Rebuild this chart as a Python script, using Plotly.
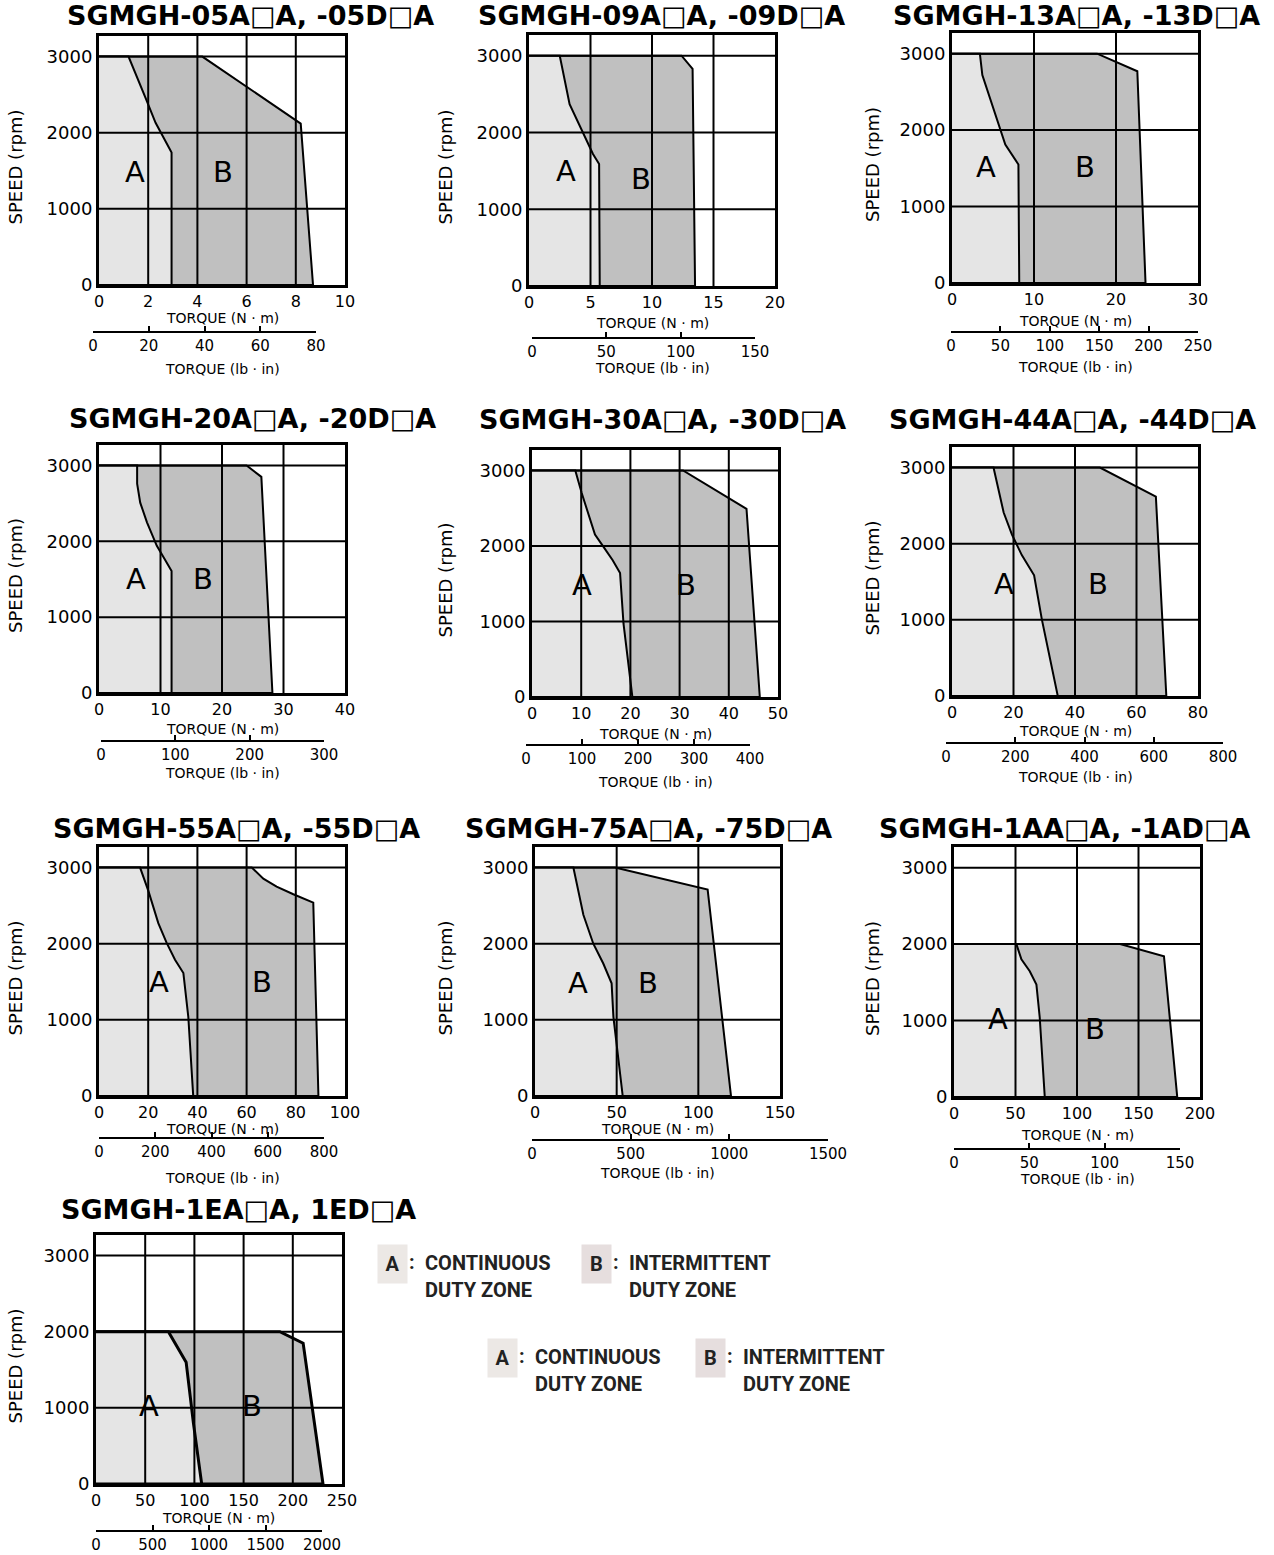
import plotly.graph_objects as go

W, H = 1274, 1555

# ---------------- data (torque in N·m, speed in rpm) ----------------
titles = ["SGMGH-05A□A, -05D□A", "SGMGH-09A□A, -09D□A", "SGMGH-13A□A, -13D□A",
          "SGMGH-20A□A, -20D□A", "SGMGH-30A□A, -30D□A", "SGMGH-44A□A, -44D□A",
          "SGMGH-55A□A, -55D□A", "SGMGH-75A□A, -75D□A", "SGMGH-1AA□A, -1AD□A",
          "SGMGH-1EA□A, 1ED□A"]

a_torque_05 = [1.2, 1.9, 2.3, 2.95, 2.95]
a_speed_05 = [3000, 2450, 2130, 1740, 0]
b_torque_05 = [4.2, 8.2, 8.7]
b_speed_05 = [3000, 2120, 0]

a_torque_09 = [2.5, 3.3, 4.4, 5.2, 5.7, 5.75]
a_speed_09 = [3000, 2370, 1980, 1720, 1590, 0]
b_torque_09 = [12.4, 13.3, 13.5]
b_speed_09 = [3000, 2830, 0]

a_torque_13 = [3.4, 3.7, 5.7, 6.5, 8.1, 8.2]
a_speed_13 = [3000, 2720, 2070, 1810, 1550, 0]
b_torque_13 = [17.7, 22.6, 23.6]
b_speed_13 = [3000, 2770, 0]

a_torque_20 = [6.2, 6.2, 6.7, 7.8, 9.4, 10.5, 11.8, 11.8]
a_speed_20 = [3000, 2760, 2510, 2250, 1940, 1790, 1610, 0]
b_torque_20 = [24.0, 26.4, 28.2]
b_speed_20 = [3000, 2850, 0]

a_torque_30 = [8.8, 10.1, 12.8, 14.5, 16.4, 17.9, 18.6, 20.4]
a_speed_30 = [3000, 2700, 2150, 1990, 1810, 1640, 970, 0]
b_torque_30 = [30.7, 43.6, 46.3]
b_speed_30 = [3000, 2490, 0]

a_torque_44 = [13.5, 16.8, 19.5, 22.7, 26.7, 29.2, 34.4]
a_speed_44 = [3000, 2410, 2120, 1850, 1585, 1010, 0]
b_torque_44 = [48.1, 66.3, 69.7]
b_speed_44 = [3000, 2620, 0]

a_torque_55 = [16.7, 20.1, 24.1, 27.5, 30.9, 34.3, 36.3, 38.3]
a_speed_55 = [3000, 2690, 2270, 2010, 1790, 1615, 1040, 0]
b_torque_55 = [62.1, 66.8, 72.2, 79.0, 87.1, 89.2]
b_speed_55 = [3000, 2855, 2750, 2650, 2540, 0]

a_torque_75 = [23.5, 29.6, 35.7, 41.8, 46.9, 48.0, 53.7]
a_speed_75 = [3000, 2380, 2000, 1740, 1480, 1040, 0]
b_torque_75 = [49.0, 105.7, 120.0]
b_speed_75 = [3000, 2710, 0]

a_torque_1A = [50.7, 54.8, 61.6, 67.0, 69.7, 73.8]
a_speed_1A = [2000, 1800, 1645, 1470, 1040, 0]
b_torque_1A = [135.0, 170.7, 181.5]
b_speed_1A = [2000, 1840, 0]

a_torque_1E = [73.6, 91.6, 99.0, 107.4]
a_speed_1E = [2000, 1600, 800, 0]
b_torque_1E = [186.8, 210.5, 230.7]
b_speed_1E = [2000, 1850, 0]

a_torques = [a_torque_05, a_torque_09, a_torque_13, a_torque_20, a_torque_30,
             a_torque_44, a_torque_55, a_torque_75, a_torque_1A, a_torque_1E]
a_speeds = [a_speed_05, a_speed_09, a_speed_13, a_speed_20, a_speed_30,
            a_speed_44, a_speed_55, a_speed_75, a_speed_1A, a_speed_1E]
b_torques = [b_torque_05, b_torque_09, b_torque_13, b_torque_20, b_torque_30,
             b_torque_44, b_torque_55, b_torque_75, b_torque_1A, b_torque_1E]
b_speeds = [b_speed_05, b_speed_09, b_speed_13, b_speed_20, b_speed_30,
            b_speed_44, b_speed_55, b_speed_75, b_speed_1A, b_speed_1E]

# axis ticks
nm_ticks = [[0, 2, 4, 6, 8, 10], [0, 5, 10, 15, 20], [0, 10, 20, 30], [0, 10, 20, 30, 40],
            [0, 10, 20, 30, 40, 50], [0, 20, 40, 60, 80], [0, 20, 40, 60, 80, 100],
            [0, 50, 100, 150], [0, 50, 100, 150, 200], [0, 50, 100, 150, 200, 250]]
lb_ticks = [[0, 20, 40, 60, 80], [0, 50, 100, 150], [0, 50, 100, 150, 200, 250],
            [0, 100, 200, 300], [0, 100, 200, 300, 400], [0, 200, 400, 600, 800],
            [0, 200, 400, 600, 800], [0, 500, 1000, 1500], [0, 50, 100, 150],
            [0, 500, 1000, 1500, 2000]]
speed_ticks = [0, 1000, 2000, 3000]
speed_max = 3270

# label positions for zone letters (data coords)
label_a_xy = [(1.46, 1485), (3.0, 1504), (4.2, 1522), (6.0, 1500), (10.1, 1482),
              (17.0, 1474), (24.5, 1491), (26.5, 1487), (35.8, 1017), (53.4, 1020)]
label_b_xy = [(5.05, 1485), (9.1, 1396), (16.2, 1522), (16.9, 1500), (31.4, 1482),
              (47.6, 1474), (66.4, 1491), (69.4, 1487), (114.5, 887), (158.1, 1020)]

# ---------------- layout geometry (pixels) ----------------
frame_left = [99, 529, 952, 99, 532, 952, 99, 535, 954, 96]
frame_right = [345, 775, 1198, 345, 778, 1198, 345, 780, 1200, 342]
frame_top = [36, 35, 33, 445, 450, 447, 847, 847, 847, 1235]
frame_bottom = [285, 286, 283, 693, 697, 696, 1096, 1096, 1097, 1484]
lb_line_y = [332, 338, 332, 741, 745, 743, 1138, 1140, 1149, 1531]
lb_x0 = [93, 532, 951, 101, 526, 946, 99, 532, 954, 96]
lb_x1 = [316, 755, 1198, 324, 750, 1223, 324, 828, 1180, 322]
nm_title_y = [318, 323, 321, 729, 734, 731, 1129, 1129, 1135, 1518]
lb_title_y = [369, 368, 367, 773, 782, 777, 1178, 1173, 1179, None]
title_xy = [(250, 16), (661, 16), (1076, 16), (252, 418), (662, 419), (1072, 419),
            (236, 828), (649, 828), (1064, 828), (238, 1209)]
speed_title_x = [15, 445, 872, 15, 445, 872, 15, 445, 872, 15]
line_w = [2, 2, 2, 2, 2, 2, 2, 2, 2, 3]

FONT = "DejaVu Sans, Arial, sans-serif"
LEGEND_FONT = "Roboto, Liberation Sans, sans-serif"
A_FILL = "#e5e5e5"
B_FILL = "#c0c0c0"


def px(x):
    return x / W


def py(y):
    return 1 - y / H


def sfx(n):
    return "" if n == 1 else str(n)


def text(t, x, y, size, family=FONT, **kw):
    d = dict(text=t, x=px(x), y=py(y), xref="paper", yref="paper", showarrow=False,
             xanchor="center", yanchor="middle",
             font=dict(family=family, size=size, color=kw.pop("color", "black")))
    d.update(kw)
    return d


fig = go.Figure()
layout = dict(width=W, height=H, margin=dict(l=0, r=0, t=0, b=0, autoexpand=False),
              paper_bgcolor="white", plot_bgcolor="rgba(0,0,0,0)",
              showlegend=False, annotations=[], shapes=[])

for i in range(10):
    n = i + 1
    xa, ya = f"x{sfx(n)}", f"y{sfx(n)}"
    xmax = nm_ticks[i][-1]
    # B zone polygon
    bt, bs = b_torques[i], b_speeds[i]
    fig.add_trace(go.Scatter(x=[0] + bt + [0], y=[bs[0]] + bs + [0], fill="toself",
                             fillcolor=B_FILL, mode="lines",
                             line=dict(color="black", width=line_w[i]),
                             hoverinfo="skip", xaxis=xa, yaxis=ya))
    at, asp = a_torques[i], a_speeds[i]
    fig.add_trace(go.Scatter(x=[0] + at + [0], y=[asp[0]] + asp + [0], fill="toself",
                             fillcolor=A_FILL, mode="lines",
                             line=dict(color="black", width=line_w[i]),
                             hoverinfo="skip", xaxis=xa, yaxis=ya))

    layout[f"xaxis{sfx(n)}"] = dict(domain=[px(frame_left[i]), px(frame_right[i])],
                                    range=[0, xmax], anchor=ya, tickvals=nm_ticks[i],
                                    ticktext=[str(t) for t in nm_ticks[i]], automargin=False,
                                    showgrid=False, zeroline=False, showline=True, mirror=True,
                                    linewidth=3, linecolor="black", ticks="",
                                    layer="above traces",
                                    tickfont=dict(family=FONT, size=16, color="black"))
    layout[f"yaxis{sfx(n)}"] = dict(domain=[py(frame_bottom[i]), py(frame_top[i])],
                                    range=[0, speed_max], anchor=xa, tickvals=speed_ticks,
                                    ticktext=[str(t) for t in speed_ticks], automargin=False,
                                    showgrid=False, zeroline=False, showline=True, mirror=True,
                                    linewidth=3, linecolor="black", ticks="",
                                    layer="above traces",
                                    tickfont=dict(family=FONT, size=18, color="black"))
    # grid lines above fills
    for t in nm_ticks[i][1:-1]:
        layout["shapes"].append(dict(type="line", xref=xa, yref=f"{ya} domain", x0=t, x1=t,
                                     y0=0, y1=1, layer="above",
                                     line=dict(color="black", width=2)))
    for t in speed_ticks[1:]:
        layout["shapes"].append(dict(type="line", xref=f"{xa} domain", yref=ya, x0=0, x1=1,
                                     y0=t, y1=t, layer="above",
                                     line=dict(color="black", width=2)))

    # lb·in secondary axis
    m = i + 11
    fig.add_trace(go.Scatter(x=[0], y=[0], mode="markers", marker=dict(opacity=0),
                             hoverinfo="skip", xaxis=f"x{m}", yaxis=f"y{m}"))
    layout[f"xaxis{m}"] = dict(domain=[px(lb_x0[i]), px(lb_x1[i])], range=[0, lb_ticks[i][-1]],
                               anchor="free", position=py(lb_line_y[i]), tickvals=lb_ticks[i],
                               ticktext=[str(t) for t in lb_ticks[i]], automargin=False,
                               showgrid=False, zeroline=False, showline=True,
                               linewidth=2, linecolor="black", ticks="inside", ticklen=5,
                               tickwidth=2, tickcolor="black", ticklabelstandoff=0,
                               tickfont=dict(family=FONT, size=15, color="black"))
    layout[f"yaxis{m}"] = dict(domain=[0, 0.001], range=[0, 1], anchor=f"x{m}",
                               visible=False, automargin=False)

    # texts
    xc = (frame_left[i] + frame_right[i]) / 2
    yc = (frame_top[i] + frame_bottom[i]) / 2
    ann = layout["annotations"]
    ann.append(text(f"<b>{titles[i]}</b>", title_xy[i][0], title_xy[i][1], 27))
    ann.append(text("SPEED (rpm)", speed_title_x[i], yc + 7, 18, textangle=-90))
    ann.append(text("TORQUE (N · m)", xc, nm_title_y[i], 14))
    if lb_title_y[i] is not None:
        ann.append(text("TORQUE (lb · in)", xc, lb_title_y[i], 14))
    ann.append(dict(text="A", x=label_a_xy[i][0], y=label_a_xy[i][1], xref=xa, yref=ya,
                    xanchor="center", yanchor="middle",
                    showarrow=False, font=dict(family=FONT, size=29, color="black")))
    ann.append(dict(text="B", x=label_b_xy[i][0], y=label_b_xy[i][1], xref=xa, yref=ya,
                    xanchor="center", yanchor="middle",
                    showarrow=False, font=dict(family=FONT, size=29, color="black")))

# ---------------- zone legends (two copies) ----------------
legend_items = [
    # (box_x, box_y, letter, colour, text_x, line1)
    (392, 1264, "A", "#ece8e5", 423, "CONTINUOUS"),
    (596, 1264, "B", "#e6dede", 627, "INTERMITTENT"),
    (502, 1358, "A", "#ece8e5", 533, "CONTINUOUS"),
    (710, 1358, "B", "#e6dede", 741, "INTERMITTENT"),
]
for bx, by, letter, col, tx, line1 in legend_items:
    ann = layout["annotations"]
    ann.append(text(f"<b>{letter}</b>", bx, by, 20, family=LEGEND_FONT, color="#222",
                    bgcolor=col, width=27, height=36))
    ann.append(text("<b>:</b>", bx + 20, by - 2, 20, family=LEGEND_FONT, color="#222"))
    ann.append(text(f"<b>{line1}</b>", tx, by - 1, 20, family=LEGEND_FONT, color="#222",
                    xanchor="left"))
    ann.append(text("<b>DUTY ZONE</b>", tx, by + 26, 20, family=LEGEND_FONT, color="#222",
                    xanchor="left"))

fig.update_layout(**layout)
fig.write_html("out.html", config={"displayModeBar": False},
               post_script="document.body.style.margin='0';")
